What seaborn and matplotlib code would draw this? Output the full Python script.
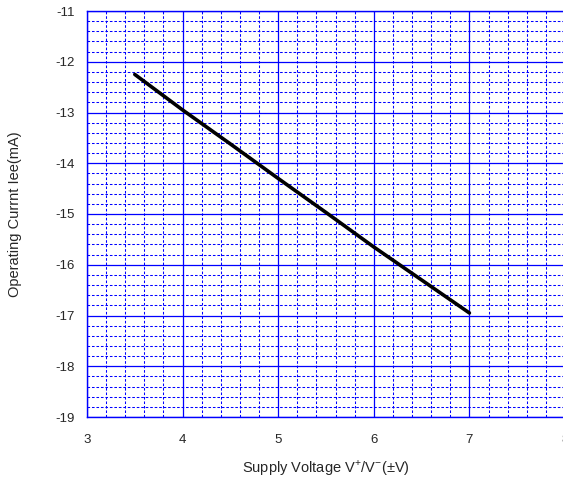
import numpy as np
import pandas as pd
import matplotlib
matplotlib.use("Agg")
import matplotlib.pyplot as plt
from matplotlib.ticker import MultipleLocator
import seaborn as sns

# supply voltage (±V) vs operating current Iee (mA)
voltage = [3.5, 4.0, 4.5, 5.0, 5.5, 6.0, 6.5, 7.0]
current = [-12.25, -12.95, -13.62, -14.3, -14.97, -15.65, -16.3, -16.95]

x_ticks = [3, 4, 5, 6, 7, 8]
y_ticks = [-19, -18, -17, -16, -15, -14, -13, -12, -11]

sns.set_style("white")
plt.rcParams["font.family"] = ["Liberation Sans", "DejaVu Sans"]
plt.rcParams["mathtext.fontset"] = "custom"
plt.rcParams["mathtext.rm"] = "Liberation Sans"
plt.rcParams["axes.unicode_minus"] = False

df = pd.DataFrame({"V": voltage, "I": current})

fig = plt.figure(figsize=(5.63, 4.84), dpi=100)
ax = fig.add_axes([87 / 563, 1 - 417 / 484, 478 / 563, 406 / 484])

blue = "#0000ff"
sns.lineplot(data=df, x="V", y="I", ax=ax, color="black", linewidth=2.6, zorder=5)

ax.set_xlim(3, 8)
ax.set_ylim(-19, -11)
ax.set_xticks(x_ticks)
ax.set_yticks(y_ticks)
ax.xaxis.set_minor_locator(MultipleLocator(0.2))
ax.yaxis.set_minor_locator(MultipleLocator(0.2))

ax.grid(which="major", color=blue, linewidth=0.9, linestyle="-")
ax.grid(which="minor", color=blue, linewidth=0.75, linestyle=(0, (2.5, 1.8)))
ax.set_axisbelow(True)

for s in ax.spines.values():
    s.set_color(blue)
    s.set_linewidth(1.0)

ax.tick_params(which="both", direction="in", color=blue, labelsize=9.5)
ax.tick_params(which="major", length=4)
ax.tick_params(axis="x", which="major", pad=12)
ax.tick_params(axis="y", which="major", pad=9)
ax.tick_params(which="minor", length=2)

ax.set_xlabel(r"Supply Voltage V$^{+}$/V$^{-}$(±V)", fontsize=10.5, labelpad=9)
ax.set_ylabel("Operating Currnt Iee(mA)", fontsize=10.5, labelpad=24)

fig.savefig("out.png", dpi=100)
